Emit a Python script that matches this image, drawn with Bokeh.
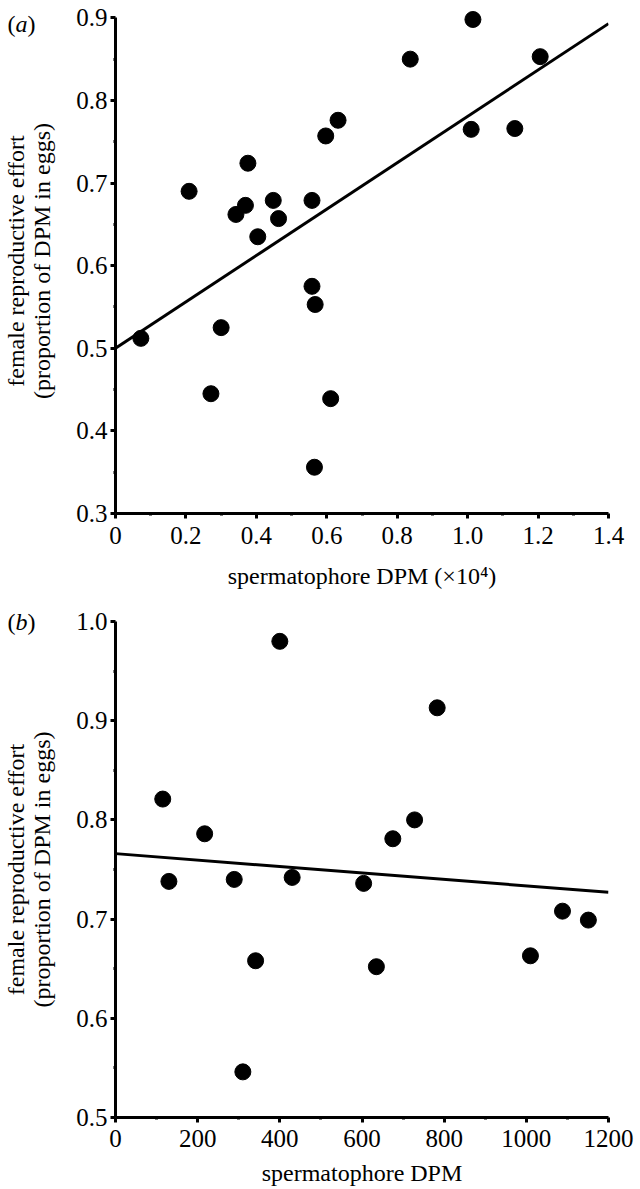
import numpy as np
from bokeh.plotting import figure
from bokeh.models import (Range1d, FixedTicker, CustomJSTickFormatter, ColumnDataSource,
                          LinearAxis)
from bokeh.layouts import column
from bokeh.embed import file_html
from bokeh.resources import INLINE

# ---------------- data: panel (a) ----------------
a_x = [1.015, 0.837, 1.206, 0.632, 0.597, 1.010, 1.134, 0.376, 0.209, 0.369, 0.342,
       0.448, 0.463, 0.404, 0.558, 0.558, 0.567, 0.072, 0.300, 0.271, 0.611, 0.565]
a_y = [0.898, 0.850, 0.853, 0.776, 0.757, 0.765, 0.766, 0.724, 0.690, 0.673, 0.662,
       0.679, 0.657, 0.635, 0.679, 0.575, 0.553, 0.512, 0.525, 0.445, 0.439, 0.356]
a_fit_intercept = 0.500
a_fit_slope = 0.2807
a_xticks = [0, 0.2, 0.4, 0.6, 0.8, 1.0, 1.2, 1.4]
a_xtick_labels = ["0", "0.2", "0.4", "0.6", "0.8", "1.0", "1.2", "1.4"]
a_yticks = [0.3, 0.4, 0.5, 0.6, 0.7, 0.8, 0.9]
a_ytick_labels = ["0.3", "0.4", "0.5", "0.6", "0.7", "0.8", "0.9"]
a_xlabel = "spermatophore DPM (\u00d710\u2074)"
a_letter = "a"

# ---------------- data: panel (b) ----------------
b_x = [115, 130, 217, 289, 310, 341, 400, 430, 604, 635, 675, 728, 783, 1010, 1088, 1151]
b_y = [0.821, 0.738, 0.786, 0.740, 0.546, 0.658, 0.980, 0.742, 0.736, 0.652, 0.781,
       0.800, 0.913, 0.663, 0.708, 0.699]
b_fit_intercept = 0.766
b_fit_slope = -0.0000325
b_xticks = [0, 200, 400, 600, 800, 1000, 1200]
b_xtick_labels = ["0", "200", "400", "600", "800", "1000", "1200"]
b_yticks = [0.5, 0.6, 0.7, 0.8, 0.9, 1.0]
b_ytick_labels = ["0.5", "0.6", "0.7", "0.8", "0.9", "1.0"]
b_xlabel = "spermatophore DPM"
b_letter = "b"

ylabel = "female reproductive effort\n(proportion of DPM in eggs)"

FONT = "Liberation Serif"


def formatter(vals, labs):
    return CustomJSTickFormatter(
        args=dict(vals=list(vals), labs=list(labs)),
        code="const i = vals.findIndex(v => Math.abs(v - tick) < 1e-9); return i >= 0 ? labs[i] : '';",
    )


def letter_axis(text, y, standoff, style):
    # a bare outer axis whose single tick label draws one piece of the panel letter
    return LinearAxis(
        ticker=FixedTicker(ticks=[y], minor_ticks=[]),
        formatter=CustomJSTickFormatter(args=dict(t=text), code="return t;"),
        axis_line_color=None, major_tick_line_color=None, minor_tick_line_color=None,
        major_tick_out=0, major_tick_in=0, minor_tick_out=0, minor_tick_in=0,
        major_label_standoff=standoff, major_label_text_font=FONT,
        major_label_text_font_style=style,
        major_label_text_font_size="24px", major_label_text_color="black")


def panel(xs, ys, icpt, slope, xticks, xlabs, yticks, ylabs, xlabel, letter,
          y_end, frame_h, border_top, border_bottom, tick_standoff, xlabel_standoff,
          letter_y):
    p = figure(frame_width=493, frame_height=frame_h,
               x_range=Range1d(xticks[0], xticks[-1]),
               y_range=Range1d(yticks[0], y_end),
               output_backend="svg", toolbar_location=None,
               min_border_left=115, min_border_right=30,
               min_border_top=border_top, min_border_bottom=border_bottom)
    p.outline_line_color = None
    p.xgrid.visible = False
    p.ygrid.visible = False
    p.background_fill_color = "white"
    p.border_fill_color = "white"

    xt = np.array(xticks, dtype=float)
    yt = np.array(yticks, dtype=float)
    p.xaxis.ticker = FixedTicker(ticks=list(xt), minor_ticks=list((xt[:-1] + xt[1:]) / 2))
    p.yaxis.ticker = FixedTicker(ticks=list(yt), minor_ticks=list((yt[:-1] + yt[1:]) / 2))
    p.xaxis.formatter = formatter(xticks, xlabs)
    p.yaxis.formatter = formatter(yticks, ylabs)
    p.yaxis.bounds = (yticks[0], yticks[-1])

    for ax in (p.xaxis, p.yaxis):
        ax.axis_line_width = 3
        ax.axis_line_color = "black"
        ax.major_tick_out = 5
        ax.major_tick_in = 0
        ax.major_tick_line_width = 3
        ax.minor_tick_out = 2
        ax.minor_tick_in = 0
        ax.minor_tick_line_width = 3
        ax.major_label_text_font = FONT
        ax.major_label_text_font_size = "25px"
        ax.major_label_text_color = "black"
        ax.axis_label_text_font = FONT
        ax.axis_label_text_font_size = "24px"
        ax.axis_label_text_font_style = "normal"
        ax.axis_label_text_color = "black"

    p.xaxis.axis_label = xlabel
    p.xaxis.major_label_standoff = tick_standoff
    p.xaxis.axis_label_standoff = xlabel_standoff
    p.yaxis.axis_label = ylabel
    p.yaxis.major_label_standoff = 3
    p.yaxis.axis_label_standoff = 18
    p.yaxis.axis_label_text_line_height = 1.0

    # panel letter "(x)" with an italic letter, as three bare outer axes
    p.add_layout(letter_axis("(", letter_y, -15, "normal"), "left")
    p.add_layout(letter_axis(letter, letter_y, -27, "italic"), "left")
    p.add_layout(letter_axis(")", letter_y, -35, "normal"), "left")

    fx = np.array([xticks[0], xticks[-1]], dtype=float)
    p.line(fx, icpt + slope * fx, line_color="black", line_width=3)

    src = ColumnDataSource(dict(x=xs, y=ys))
    p.scatter("x", "y", source=src, size=16, marker="circle",
              fill_color="black", line_color="black")
    return p


pa = panel(a_x, a_y, a_fit_intercept, a_fit_slope, a_xticks, a_xtick_labels,
           a_yticks, a_ytick_labels, a_xlabel, a_letter,
           y_end=0.9113, frame_h=505, border_top=8, border_bottom=87,
           tick_standoff=8, xlabel_standoff=16, letter_y=0.893)
pb = panel(b_x, b_y, b_fit_intercept, b_fit_slope, b_xticks, b_xtick_labels,
           b_yticks, b_ytick_labels, b_xlabel, b_letter,
           y_end=1.0, frame_h=496, border_top=21, border_bottom=72,
           tick_standoff=7, xlabel_standoff=10, letter_y=1.0)

layout = column(pa, pb, spacing=0)
open("out.html", "w").write(file_html(layout, INLINE))
